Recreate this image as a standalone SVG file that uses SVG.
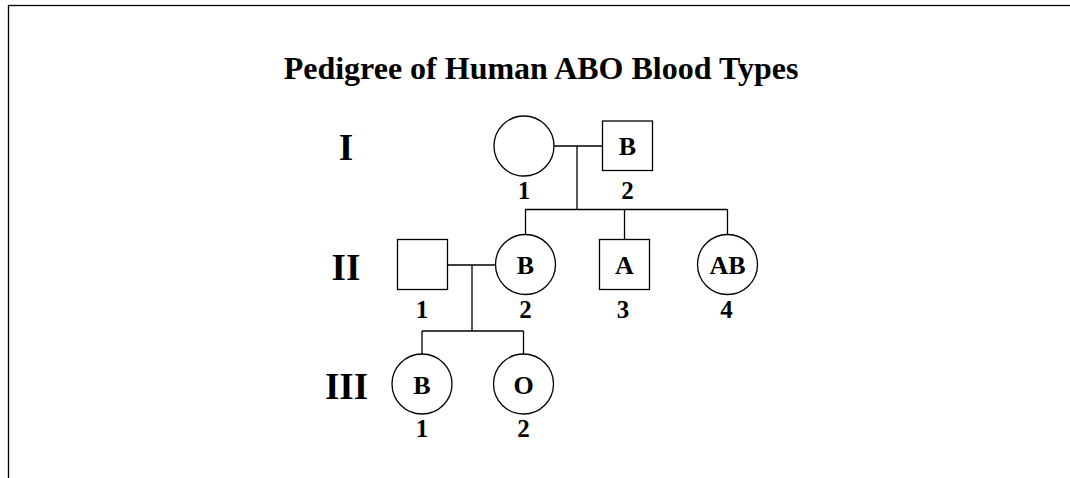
<svg xmlns="http://www.w3.org/2000/svg" width="1070" height="478" viewBox="0 0 1070 478">
<style>
.shape{fill:#fff;stroke:#000;stroke-width:1.3}
.conn line{stroke:#000;stroke-width:1.3}
text{font-family:"Liberation Serif","Times New Roman",serif;font-weight:bold;fill:#000;text-anchor:middle}
.t{font-size:32px}
.gen{font-size:37px}
.sym{font-size:26px}
.num{font-size:25px}
</style>
<rect x="0" y="0" width="1070" height="478" fill="#fff"/>
<rect x="8.5" y="5.5" width="1100" height="500" fill="none" stroke="#000" stroke-width="1.3"/>
<text class="t" x="541" y="79">Pedigree of Human ABO Blood Types</text>
<g id="generations">
<text class="gen" x="346" y="159.5">I</text>
<text class="gen" x="346" y="279.5">II</text>
<text class="gen" x="346.5" y="398.5">III</text>
</g>
<g id="connectors" class="conn">
<line x1="554" y1="146" x2="602.5" y2="146"/>
<line x1="577" y1="146" x2="577" y2="209.5"/>
<line x1="525" y1="209.5" x2="727.5" y2="209.5"/>
<line x1="525.5" y1="209.5" x2="525.5" y2="234.5"/>
<line x1="624.5" y1="209.5" x2="624.5" y2="239.5"/>
<line x1="727.5" y1="209.5" x2="727.5" y2="234.5"/>
<line x1="447.5" y1="265" x2="495.5" y2="265"/>
<line x1="472" y1="265" x2="472" y2="331"/>
<line x1="422" y1="331" x2="523.5" y2="331"/>
<line x1="422" y1="331" x2="422" y2="354"/>
<line x1="523.5" y1="331" x2="523.5" y2="354"/>
</g>
<g id="I-1">
<circle class="shape" cx="524" cy="146" r="30"/>
<text class="num" x="524" y="198.5">1</text>
</g>
<g id="I-2">
<rect class="shape" x="602.5" y="121" width="50" height="49.5"/>
<text class="sym" x="627.5" y="155">B</text>
<text class="num" x="627.5" y="198.5">2</text>
</g>
<g id="II-1">
<rect class="shape" x="397.5" y="239.5" width="50" height="50"/>
<text class="num" x="422" y="317.5">1</text>
</g>
<g id="II-2">
<circle class="shape" cx="525.5" cy="264.5" r="30"/>
<text class="sym" x="525.5" y="273.5">B</text>
<text class="num" x="525.5" y="317.5">2</text>
</g>
<g id="II-3">
<rect class="shape" x="599.5" y="239.5" width="50" height="50"/>
<text class="sym" x="624.5" y="273.5">A</text>
<text class="num" x="623" y="317.5">3</text>
</g>
<g id="II-4">
<circle class="shape" cx="727.5" cy="264.5" r="30"/>
<text class="sym" x="727.5" y="273.5">AB</text>
<text class="num" x="726.5" y="317.5">4</text>
</g>
<g id="III-1">
<circle class="shape" cx="422" cy="384" r="30"/>
<text class="sym" x="422" y="393.5">B</text>
<text class="num" x="422" y="437">1</text>
</g>
<g id="III-2">
<circle class="shape" cx="523.5" cy="384" r="30"/>
<text class="sym" x="523.5" y="393.5">O</text>
<text class="num" x="523.5" y="436.5">2</text>
</g>
</svg>
